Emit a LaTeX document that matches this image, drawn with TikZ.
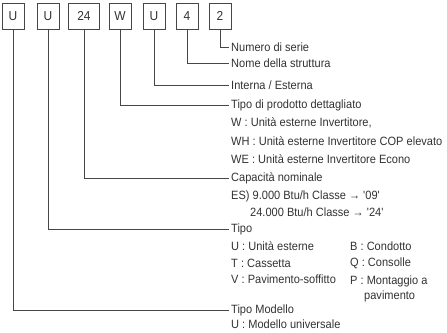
\documentclass[tikz,border=0pt]{standalone}
\usepackage{fontspec}
\setmainfont{Liberation Sans}[FakeStretch=0.92]
\usetikzlibrary{positioning}
\definecolor{L}{RGB}{70,70,70}
\definecolor{T}{RGB}{50,50,50}
\tikzset{
  digit/.style={draw=L, line width=0.9pt, minimum width=22pt, minimum height=26pt,
    inner sep=0pt, text=T, font=\fontsize{13}{13}\selectfont},
  desc/.style={anchor=west, inner xsep=2pt, inner ysep=0pt, text=T,
    font=\fontsize{12}{13}\selectfont},
  leader/.style={draw=L, line width=0.9pt},
}

\begin{document}
\begin{tikzpicture}[x=1pt, y=-1pt]
   \useasboundingbox (0,0) rectangle (447,332);
   % code boxes
   \node[digit] (b1) at (13,16) {U};
   \node[digit] (b2) at (48,16) {U};
   \node[digit, minimum width=31pt] (b3) at (84,16) {24};
   \node[digit] (b4) at (120,16) {W};
   \node[digit] (b5) at (154,16) {U};
   \node[digit] (b6) at (187,16) {4};
   \node[digit] (b7) at (220,16) {2};
   % descriptions
   \node[desc] (serie) at (229,47) {Numero di serie};
   \node[desc] (struttura) at (229,63) {Nome della struttura};
   \node[desc] (interna) at (229,85) {Interna / Esterna};
   \node[desc] (prodotto) at (229,105) {Tipo di prodotto dettagliato};
   \node[desc] (w1) at (229,123) {W : Unità esterne Invertitore,};
   \node[desc] (w2) at (229,141) {WH : Unità esterne Invertitore COP elevato};
   \node[desc] (w3) at (229,159) {WE : Unità esterne Invertitore Econo};
   \node[desc] (capacita) at (229,178) {Capacità nominale};
   \node[desc] (es1) at (229,196) {ES) 9.000 Btu/h Classe → \textquotesingle09\textquotesingle};
   \node[desc] (es2) at (248,212) {24.000 Btu/h Classe → \textquotesingle24\textquotesingle};
   \node[desc] (tipo) at (229,229) {Tipo};
   \node[desc] (tu) at (229,246) {U : Unità esterne};
   \node[desc] (tt) at (229,263) {T : Cassetta};
   \node[desc] (tv) at (229,279) {V : Pavimento-soffitto};
   \node[desc] (tb) at (348,246) {B : Condotto};
   \node[desc] (tq) at (348,263) {Q : Consolle};
   \node[desc] (tp) at (348,281) {P : Montaggio a};
   \node[desc] (tp2) at (362,296) {pavimento};
   \node[desc] (modello) at (229,310) {Tipo Modello};
   \node[desc] (mu) at (229,324) {U : Modello universale};
   % leaders
   \draw[leader] (b7.south) |- (serie.west);
   \draw[leader] (b6.south) |- (struttura.west);
   \draw[leader] (b5.south) |- (interna.west);
   \draw[leader] (b4.south) |- (prodotto.west);
   \draw[leader] (b3.south) |- (capacita.west);
   \draw[leader] (b2.south) |- (tipo.west);
   \draw[leader] (b1.south) |- (modello.west);
\end{tikzpicture}
\end{document}
